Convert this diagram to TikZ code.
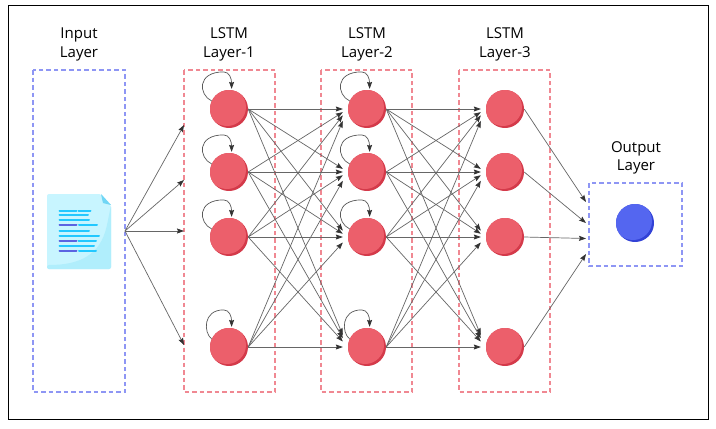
\documentclass[tikz,border=0pt]{standalone}
\usepackage{fontspec}
\setmainfont{Open Sans}
\usetikzlibrary{arrows.meta, calc}
\definecolor{NeuronRojo}{RGB}{236,95,107}
\definecolor{NeuronRojoOsc}{RGB}{212,58,74}
\definecolor{NeuronAzul}{RGB}{84,102,240}
\definecolor{NeuronAzulOsc}{RGB}{50,66,214}
\definecolor{CajaRoja}{RGB}{240,136,146}
\definecolor{CajaAzul}{RGB}{142,150,244}
\definecolor{DocClaro}{RGB}{200,245,255}
\definecolor{DocSombra}{RGB}{176,238,252}
\definecolor{DocPliegue}{RGB}{112,214,245}
\definecolor{DocLinea}{RGB}{34,200,255}
\definecolor{DocOscura}{RGB}{90,100,226}
\tikzset{%
  neurona/.style  ={circle, minimum size=38pt, inner sep=0pt, path picture={
                    \fill[NeuronRojoOsc] (path picture bounding box.south west) rectangle (path picture bounding box.north east);
                    \fill[NeuronRojo] (path picture bounding box.center) ++(-2pt,2pt) circle (19pt);}},
  salida/.style   ={circle, minimum size=38pt, inner sep=0pt, path picture={
                    \fill[NeuronAzulOsc] (path picture bounding box.south west) rectangle (path picture bounding box.north east);
                    \fill[NeuronAzul] (path picture bounding box.center) ++(-2pt,2pt) circle (19pt);}},
  cajaroja/.style ={draw=CajaRoja, line width=1.2pt, dash pattern=on 4.5pt off 3pt},
  cajaazul/.style ={draw=CajaAzul, line width=1.2pt, dash pattern=on 4.5pt off 3pt},
  capa/.style     ={align=center, font=\fontsize{15}{18.5}\selectfont, inner sep=0pt},
  flarr/.style    ={-{Stealth[length=7pt,width=5pt,inset=1pt,black!80]}, line width=0.7pt, draw=black!60},
  bucle/.style    ={-{Stealth[length=7pt,width=5pt,inset=1pt,black!80]}, line width=0.7pt, draw=black!65}
}
\begin{document}
\begin{tikzpicture}[x=1pt,y=-1pt]
  \useasboundingbox (0,0) rectangle (716,429);
  \fill[white] (0,0) rectangle (716,429);
  \draw[black, line width=1pt] (8.5,5.5) rectangle (708.5,419.5);

  \draw[cajaazul] (33,70) rectangle (125,392);
  \draw[cajaroja] (184,70) rectangle (275,392);
  \draw[cajaroja] (321,70) rectangle (412,392);
  \draw[cajaroja] (459,70) rectangle (550,392);
  \draw[cajaazul] (589,183) rectangle (682,266);

  \node[capa] (tin) at (79,44.5) {Input\\Layer};
  \node[capa] (t1) at (229,44.5) {LSTM\\Layer-1};
  \node[capa] (t2) at (367,44.5) {LSTM\\Layer-2};
  \node[capa] (t3) at (505,44.5) {LSTM\\Layer-3};
  \node[capa] (tout) at (636,158) {Output\\Layer};

  \fill[DocClaro, rounded corners=2pt] (47,194) -- (101,194) -- (111,205) -- (111,269) -- (47,269) -- cycle;
  \fill[DocSombra, rounded corners=2pt] (47,265) .. controls (80,265) and (100,255) .. (107,225) -- (111,205) -- (111,269) -- (47,269) -- cycle;
  \fill[DocPliegue] (101,194) -- (111,205) -- (103,203) -- cycle;
  \foreach \yy/\xa/\xb in {215.3/59.5/88, 220.3/59.5/89, 230.7/59.5/89, 235.7/59.5/99, 246.3/59.5/94, 210.7/59.5/76.5, 210.7/78.5/90.5, 225.3/79/97, 241/78.5/96, 251.3/79/96}{
    \draw[DocLinea, line width=2pt, line cap=round] (\xa,\yy) -- (\xb,\yy);
  }
  \foreach \yy in {225.3,241,251.3}{
    \draw[DocOscura, line width=2pt, line cap=round] (59.5,\yy) -- (76.5,\yy);
  }

  \foreach \i/\yy in {1/109,2/172,3/237,4/347}{
    \node[neurona] (a\i) at (229,\yy) {};
    \node[neurona] (b\i) at (367,\yy) {};
    \node[neurona] (c\i) at (505,\yy) {};
  }
  \node[salida] (sal) at (635,223) {};

  \coordinate (doc) at (125,231);
  \foreach \i/\yy in {1/125,2/180,3/231,4/345}{
    \coordinate (e\i) at (184,\yy);
    \draw[flarr] (doc) -- (e\i);
  }
  \foreach \i in {1,...,4}{
    \foreach \j in {1,...,4}{
      \draw[flarr] (a\i.east) -- ($(b\j.west)!0.05!(a\i.east)$);
      \draw[flarr] (b\i.east) -- ($(c\j.west)!0.05!(b\i.east)$);
    }
  }
  \foreach \i/\yy in {1/202,2/223,3/238.5,4/254}{
    \coordinate (s\i) at (586,\yy);
    \draw[flarr] (c\i.east) -- (s\i);
  }

  \foreach \n in {a,b}{
    \foreach \i/\u/\w in {1/13/27,2/13/27,3/13/27,4/8/21}{
      \draw[bucle] (\n\i.155) .. controls +(-\u,-6) and +(-\w,0) .. ++(12,-29)
        .. controls +(6,0) and +(0,-10) .. ++(8,17);
    }
  }
\end{tikzpicture}
\end{document}
